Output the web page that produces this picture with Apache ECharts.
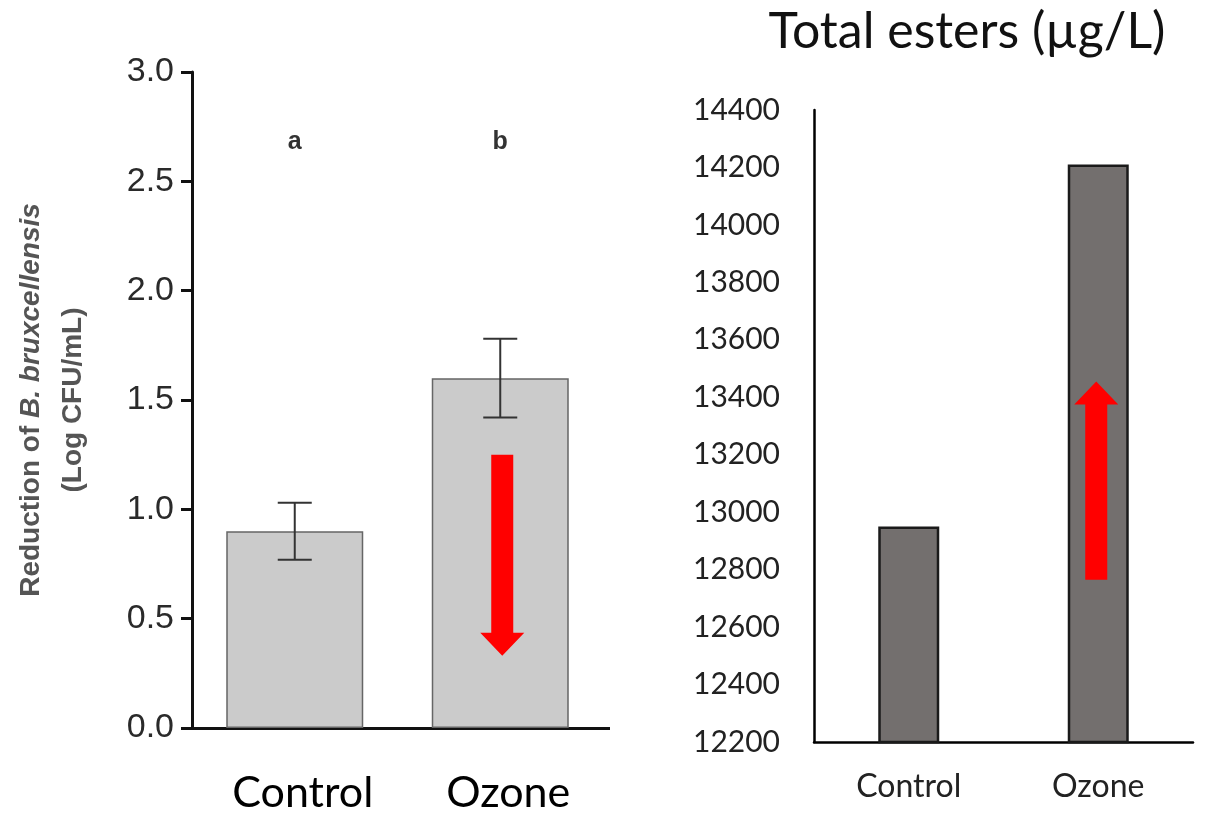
<!DOCTYPE html>
<html>
<head>
<meta charset="utf-8">
<script src="https://cdn.jsdelivr.net/npm/echarts@6/dist/echarts.min.js"></script>
<style>
html,body{margin:0;padding:0;background:#fff;}
#c{width:1212px;height:815px;}
</style>
</head>
<body>
<div id="c"></div>
<script>
// ---- data ----
const categories = ['Control', 'Ozone'];
// left panel: reduction of B. bruxcellensis (Log CFU/mL)
const reductionMeans = [0.9, 1.6];
const reductionErrLow = [0.77, 1.42];
const reductionErrHigh = [1.03, 1.78];
const sigLetters = ['a', 'b'];
const sigLetterLevel = 2.68;
// right panel: total esters (µg/L)
const esterValues = [12950, 14210];
// annotation arrows [categoryIndex, start, tip]
const arrowLeft = [1, 1.25, 0.33];
const arrowRight = [1, 12765, 13455];

const chart = echarts.init(document.getElementById('c'), null, {renderer: 'canvas'});

function errRender(params, api) {
  const i = api.value(0);
  const lo = api.coord([i, api.value(1)]);
  const hi = api.coord([i, api.value(2)]);
  const cw = 17;
  const st = {stroke: '#333', lineWidth: 2};
  return {type: 'group', children: [
    {type: 'line', shape: {x1: lo[0], y1: lo[1], x2: hi[0], y2: hi[1]}, style: st},
    {type: 'line', shape: {x1: lo[0] - cw, y1: lo[1], x2: lo[0] + cw, y2: lo[1]}, style: st},
    {type: 'line', shape: {x1: hi[0] - cw, y1: hi[1], x2: hi[0] + cw, y2: hi[1]}, style: st}
  ]};
}

function makeArrowRender(dx) {
  return function (params, api) {
    const i = api.value(0);
    const s = api.coord([i, api.value(1)]);
    const t = api.coord([i, api.value(2)]);
    const cx = s[0] + dx;
    const dir = t[1] > s[1] ? 1 : -1;
    const sw = 11, hw = 22, hl = 23;
    const yb = t[1] - dir * hl;
    return {type: 'polygon', shape: {points: [
      [cx - sw, s[1]], [cx + sw, s[1]], [cx + sw, yb], [cx + hw, yb],
      [cx, t[1]], [cx - hw, yb], [cx - sw, yb]
    ]}, style: {fill: '#ff0000'}};
  };
}

function letterRender(params, api) {
  const i = api.value(0);
  const p = api.coord([i, sigLetterLevel]);
  return {type: 'text', x: p[0], y: p[1], style: {
    text: sigLetters[params.dataIndex], fill: '#333', font: 'bold 25px "Liberation Sans", Arial',
    align: 'center', verticalAlign: 'middle'
  }};
}

const nameFont = {fontFamily: '"Liberation Sans", Arial', fontSize: 28, fontWeight: 'bold', color: '#555', lineHeight: 42};

const option = {
  animation: false,
  backgroundColor: '#fff',
  title: {
    text: 'Total esters (µg/L)',
    left: 962, top: 2, textAlign: 'center',
    textStyle: {fontFamily: 'Lato', fontSize: 50, fontWeight: 'normal', color: '#111'}
  },
  grid: [
    {left: 192, right: 609, top: 72, bottom: 87},
    {left: 814, right: 19, top: 110, bottom: 73}
  ],
  xAxis: [
    {
      type: 'category', gridIndex: 0, data: categories,
      axisLine: {lineStyle: {color: '#111', width: 3}},
      axisTick: {alignWithLabel: true, length: 11, lineStyle: {color: '#111', width: 3}},
      axisLabel: {fontFamily: 'Lato', fontSize: 43, color: '#000', margin: 44, padding: [0, 0, 0, 16]}
    },
    {
      type: 'category', gridIndex: 1, data: categories,
      axisLine: {lineStyle: {color: '#000', width: 2.5}},
      axisTick: {show: false},
      axisLabel: {fontFamily: 'Lato', fontSize: 32, color: '#222', margin: 29}
    }
  ],
  yAxis: [
    {
      type: 'value', gridIndex: 0, min: 0, max: 3, interval: 0.5,
      splitLine: {show: false},
      axisLine: {show: true, lineStyle: {color: '#111', width: 3}},
      axisTick: {show: true, length: 11, lineStyle: {color: '#111', width: 3}},
      axisLabel: {fontFamily: '"Liberation Sans", Arial', fontSize: 34, color: '#2a2a2a', margin: 18,
        formatter: v => v.toFixed(1)},
      name: '{n|Reduction of }{i|B. bruxcellensis}\n{n|(Log CFU/mL)}',
      nameLocation: 'middle', nameRotate: 90, nameGap: 98,
      nameTextStyle: Object.assign({}, nameFont, {
        rich: {
          n: Object.assign({}, nameFont),
          i: Object.assign({}, nameFont, {fontStyle: 'italic'})
        }
      })
    },
    {
      type: 'value', gridIndex: 1, min: 12200, max: 14400, interval: 200,
      splitLine: {show: false},
      axisLine: {show: true, lineStyle: {color: '#000', width: 2.5}},
      axisTick: {show: false},
      axisLabel: {fontFamily: 'Lato', fontSize: 30, color: '#222', margin: 34,
        formatter: v => String(v)}
    }
  ],
  series: [
    {
      type: 'bar', xAxisIndex: 0, yAxisIndex: 0, data: reductionMeans, barWidth: 137,
      itemStyle: {color: '#cbcbcb', borderColor: '#666', borderWidth: 1.5}, z: 2
    },
    {
      type: 'custom', xAxisIndex: 0, yAxisIndex: 0, renderItem: errRender, z: 3,
      data: categories.map((c, i) => [i, reductionErrLow[i], reductionErrHigh[i]])
    },
    {
      type: 'custom', xAxisIndex: 0, yAxisIndex: 0, renderItem: letterRender, z: 3,
      data: categories.map((c, i) => [i, sigLetterLevel])
    },
    {
      type: 'custom', xAxisIndex: 0, yAxisIndex: 0, renderItem: makeArrowRender(2), z: 4,
      data: [arrowLeft]
    },
    {
      type: 'bar', xAxisIndex: 1, yAxisIndex: 1, data: esterValues, barWidth: 61,
      itemStyle: {color: '#736f6e', borderColor: '#1a1a1a', borderWidth: 2.5}, z: 2
    },
    {
      type: 'custom', xAxisIndex: 1, yAxisIndex: 1, renderItem: makeArrowRender(-2), z: 4,
      data: [arrowRight]
    }
  ],
  graphic: [
    {type: 'line', shape: {x1: 598, y1: 728.5, x2: 610, y2: 728.5}, style: {stroke: '#111', lineWidth: 3}}
  ]
};
chart.setOption(option);
</script>
</body>
</html>
